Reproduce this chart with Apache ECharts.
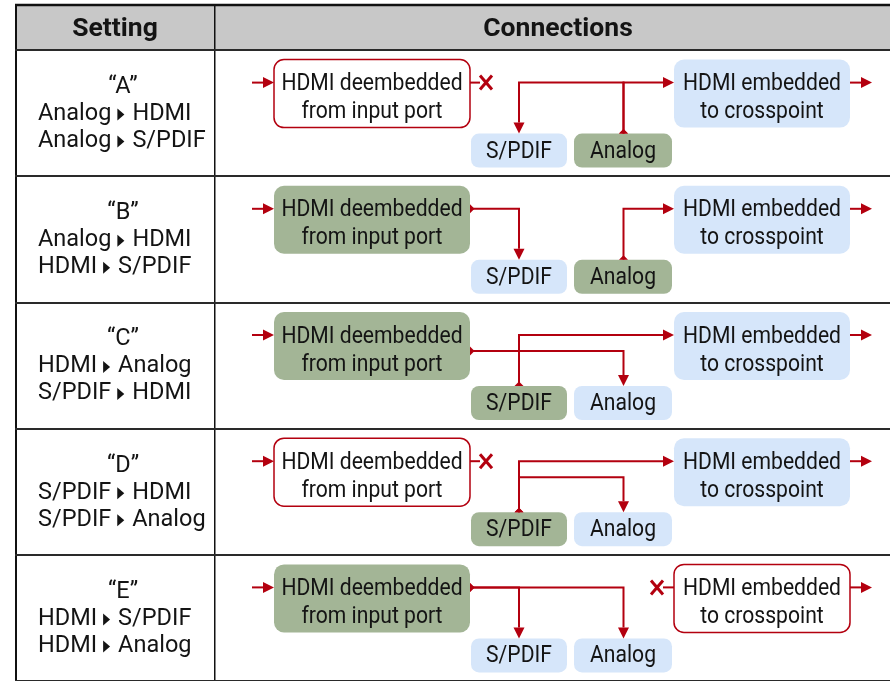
<!DOCTYPE html>
<html><head><meta charset="utf-8">
<script src="https://cdn.jsdelivr.net/npm/echarts@6/dist/echarts.min.js"></script>
<style>html,body{margin:0;padding:0;background:#fff}#c{width:890px;height:681px}</style>
</head><body><div id="c"></div>
<script>
// ---- data ----
const headers = ['Setting', 'Connections'];
const settings = ['“A”', '“B”', '“C”', '“D”', '“E”'];
const routeFirst = ['Analog ▸ HDMI', 'Analog ▸ HDMI', 'HDMI ▸ Analog', 'S/PDIF ▸ HDMI', 'HDMI ▸ S/PDIF'];
const routeSecond = ['Analog ▸ S/PDIF', 'HDMI ▸ S/PDIF', 'S/PDIF ▸ HDMI', 'S/PDIF ▸ Analog', 'HDMI ▸ Analog'];
const busLevelFirst = [0, 0, 1, 0, 0];
const busLevelSecond = [0, 0, 0, 1, 0];
const deembedLabel = ['HDMI deembedded', 'from input port'];
const embedLabel = ['HDMI embedded', 'to crosspoint'];
const localPorts = ['S/PDIF', 'Analog'];

// ---- styles / layout ----
const RED = '#b3000f', GREEN = '#a3b596', BLUE = '#d6e6fa', INK = '#141414';
const LEFT_SIZE = 23.5;
const L = {
  deX: 274, deW: 196, boxH: 68, emX: 674, emW: 176,
  smallY: 74, smallH: 34, 'S/PDIF': [471, 96, 519], 'Analog': [574, 98, 623.5],
  levels: [23, 39]
};

const mctx = document.createElement('canvas').getContext('2d');
function textW(s, size) { mctx.font = size + 'px Roboto'; return mctx.measureText(s).width; }
function parse(r) { return r.split(' ▸ '); }

function renderRow(params, api) {
  const i = api.value(1);
  const px = v => api.coord([v, i])[0];
  const cy = api.coord([0, i])[1];
  const bt = cy - 53.5;
  const ch = [];
  const txt = (x, y, s, align, size, sx) => ch.push({
    type: 'text', x: x, y: y, scaleX: sx || 1,
    style: { text: s, fill: INK, fontSize: size, fontFamily: 'Roboto', align: align, verticalAlign: 'middle' }
  });
  const line = pts => ch.push({ type: 'polyline', shape: { points: pts }, style: { stroke: RED, lineWidth: 2, fill: null } });
  const poly = (pts, c) => ch.push({ type: 'polygon', shape: { points: pts }, style: { fill: c || RED } });
  const arrowHead = (tip, dir) => {
    const len = 11, hw = 5.5;
    const bx = tip[0] - dir[0] * len, by = tip[1] - dir[1] * len;
    poly([tip, [bx - dir[1] * hw, by + dir[0] * hw], [bx + dir[1] * hw, by - dir[0] * hw]]);
    return [bx, by];
  };
  const tail = (p, dir) => {
    const len = 4.5, hw = 4.5;
    poly([[p[0] - dir[1] * hw, p[1] + dir[0] * hw], [p[0] + dir[1] * hw, p[1] - dir[0] * hw], [p[0] + dir[0] * len, p[1] + dir[1] * len]]);
  };
  const xMark = (x, y) => {
    ch.push({ type: 'line', shape: { x1: x - 6, y1: y - 7, x2: x + 6, y2: y + 7 }, style: { stroke: RED, lineWidth: 3 } });
    ch.push({ type: 'line', shape: { x1: x + 6, y1: y - 7, x2: x - 6, y2: y + 7 }, style: { stroke: RED, lineWidth: 3 } });
  };
  const routeText = (x, y, r) => {
    const [a, b] = parse(r);
    txt(x, y, a, 'left', LEFT_SIZE);
    const tx = x + textW(a, LEFT_SIZE) + 6;
    poly([[tx, y - 5.5], [tx + 7, y + 0.5], [tx, y + 6.5]], INK);
    txt(tx + 15, y, b, 'left', LEFT_SIZE);
  };

  // left column text
  txt(px(123), cy - 26, settings[i], 'center', LEFT_SIZE);
  routeText(px(38), cy + 1, routeFirst[i]);
  routeText(px(38), cy + 28, routeSecond[i]);

  const routes = [[...parse(routeFirst[i]), busLevelFirst[i]], [...parse(routeSecond[i]), busLevelSecond[i]]];
  const hdmiSrc = routes.some(r => r[0] === 'HDMI');
  const hdmiDst = routes.some(r => r[1] === 'HDMI');
  const y0 = bt + L.levels[0];

  // deembedder box
  ch.push({ type: 'rect', shape: { x: px(L.deX), y: bt, width: L.deW, height: L.boxH, r: 10 },
    style: hdmiSrc ? { fill: GREEN } : { fill: '#fff', stroke: RED, lineWidth: 1.5 } });
  txt(px(L.deX + L.deW / 2), bt + 24.5, deembedLabel[0], 'center', 24, 0.88);
  txt(px(L.deX + L.deW / 2), bt + 52.5, deembedLabel[1], 'center', 24, 0.88);
  const ib = arrowHead([px(L.deX), y0], [1, 0]);
  line([[px(252), y0], ib]);
  if (!hdmiSrc) { line([[px(L.deX + L.deW), y0], [px(480), y0]]); xMark(px(486), y0); }

  // embedder box
  ch.push({ type: 'rect', shape: { x: px(L.emX), y: bt, width: L.emW, height: L.boxH, r: 10 },
    style: hdmiDst ? { fill: BLUE } : { fill: '#fff', stroke: RED, lineWidth: 1.5 } });
  txt(px(L.emX + L.emW / 2), bt + 24.5, embedLabel[0], 'center', 24, 0.88);
  txt(px(L.emX + L.emW / 2), bt + 52.5, embedLabel[1], 'center', 24, 0.88);
  const ob = arrowHead([px(872), y0], [1, 0]);
  line([[px(L.emX + L.emW), y0], ob]);
  if (!hdmiDst) { xMark(px(657), y0); line([[px(663), y0], [px(L.emX), y0]]); }

  // local ports
  localPorts.forEach(p => {
    const isSrc = routes.some(r => r[0] === p);
    const g = L[p];
    ch.push({ type: 'rect', shape: { x: px(g[0]), y: bt + L.smallY, width: g[1], height: L.smallH, r: 8 },
      style: { fill: isSrc ? GREEN : BLUE } });
    txt(px(g[0] + g[1] / 2), bt + L.smallY + L.smallH / 2 + 1, p, 'center', 24, 0.88);
  });

  // wires
  routes.forEach(r => {
    const [src, dst, lvl] = r;
    const ly = bt + L.levels[lvl];
    const pts = [];
    let tdir;
    if (src === 'HDMI') { pts.push([px(L.deX + L.deW), ly]); tdir = [1, 0]; }
    else { const x = px(L[src][2]); pts.push([x, bt + L.smallY], [x, ly]); tdir = [0, -1]; }
    tail(pts[0], tdir);
    let tip, dir;
    if (dst === 'HDMI') { tip = [px(L.emX), ly]; dir = [1, 0]; }
    else { const x = px(L[dst][2]); pts.push([x, ly]); tip = [x, bt + L.smallY]; dir = [0, 1]; }
    const base = arrowHead(tip, dir);
    pts.push(base);
    line(pts);
  });

  return { type: 'group', children: ch };
}

const chart = echarts.init(document.getElementById('c'), null, { renderer: 'canvas' });
chart.setOption({
  animation: false,
  backgroundColor: '#fff',
  grid: { left: 15, right: 0, top: 50, height: 632.5 },
  xAxis: { type: 'value', min: 15, max: 890, show: false },
  yAxis: {
    type: 'category', inverse: true, data: settings,
    axisLabel: { show: false }, axisTick: { show: false }, axisLine: { show: false },
    splitLine: { show: true, lineStyle: { color: '#2a2a2a', width: 2 } }
  },
  graphic: [
    { type: 'rect', shape: { x: 16, y: 5, width: 874, height: 45 }, style: { fill: '#c8c8c8' }, z: -10 },
    { type: 'line', shape: { x1: 15, y1: 5, x2: 890, y2: 5 }, style: { stroke: '#111', lineWidth: 2.5 } },
    { type: 'line', shape: { x1: 16, y1: 4, x2: 16, y2: 681 }, style: { stroke: '#111', lineWidth: 2 } },
    { type: 'line', shape: { x1: 214.75, y1: 5, x2: 214.75, y2: 681 }, style: { stroke: '#111', lineWidth: 1.5 } },
    { type: 'text', x: 115, y: 29.5, style: { text: headers[0], fill: INK, fontSize: 26.5, fontWeight: 'bold', fontFamily: 'Roboto', align: 'center', verticalAlign: 'middle' } },
    { type: 'text', x: 558, y: 29.5, style: { text: headers[1], fill: INK, fontSize: 26.5, fontWeight: 'bold', fontFamily: 'Roboto', align: 'center', verticalAlign: 'middle' } }
  ],
  series: [{
    type: 'custom',
    data: settings.map((s, i) => [0, i]),
    encode: { x: 0, y: 1 },
    renderItem: renderRow
  }]
});
</script></body></html>
